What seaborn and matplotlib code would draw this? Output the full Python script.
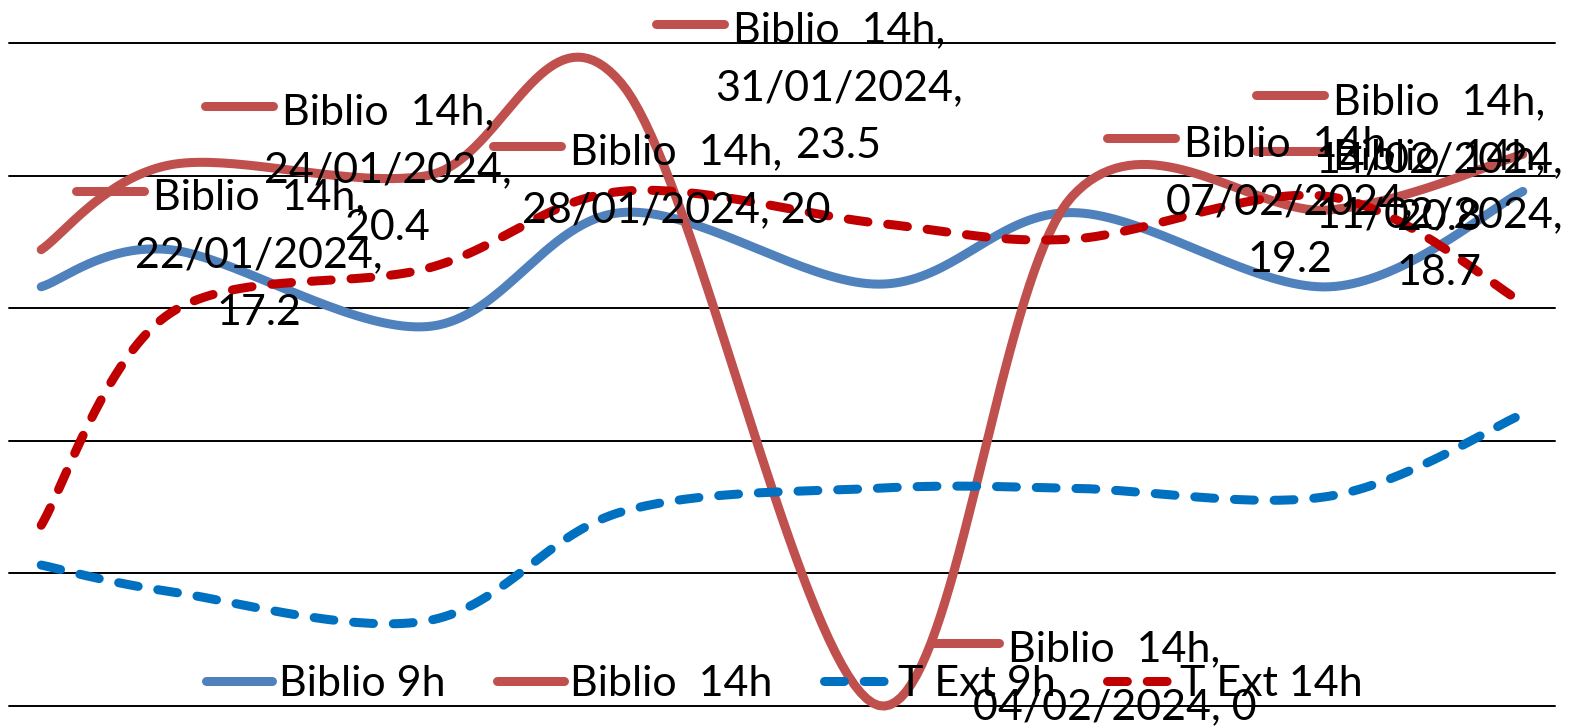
import numpy as np
import pandas as pd
import matplotlib
matplotlib.use("Agg")
import matplotlib.pyplot as plt
from matplotlib.lines import Line2D
from matplotlib.transforms import IdentityTransform
import seaborn as sns

dates = ["22/01/2024", "24/01/2024", "28/01/2024", "31/01/2024",
         "04/02/2024", "07/02/2024", "11/02/2024", "14/02/2024"]
biblio_9h = [15.8, 17.2, 14.3, 18.6, 15.9, 18.6, 15.8, 19.4]
biblio_14h = [17.2, 20.4, 20, 23.5, 0, 19.2, 18.7, 20.8]
t_ext_9h = [5.3, 4.3, 3.2, 7.3, 8.2, 8.2, 7.9, 11.0]
t_ext_14h = [6.8, 14.8, 16.5, 19.4, 18.2, 17.6, 19.2, 15.2]

names = ["Biblio 9h", "Biblio  14h", "T Ext 9h", "T Ext 14h"]
colors = ["#4F81BD", "#C0504D", "#0070C0", "#C00000"]
dashed = [False, False, True, True]

W, H = 1581, 726
FS = 31
LW = 6.5
DASH = (0, (2.2, 2.2))


def smooth(x, y, n=40):
    # excel style smoothed line: bezier segments through every point
    p = np.column_stack([x, y]).astype(float)
    pe = np.vstack([p[0], p, p[-1]])
    t = np.linspace(0, 1, n)[1:, None]
    out = [p[:1]]
    for i in range(len(p) - 1):
        p0, p1, p2, p3 = pe[i], pe[i + 1], pe[i + 2], pe[i + 3]
        c1 = p1 + (p2 - p0) / 6
        c2 = p2 - (p3 - p1) / 6
        out.append((1 - t) ** 3 * p1 + 3 * (1 - t) ** 2 * t * c1
                   + 3 * (1 - t) * t ** 2 * c2 + t ** 3 * p2)
    out = np.vstack(out)
    return out[:, 0], out[:, 1]


sns.set_theme(style="white")
plt.rcParams["font.family"] = ["Lato", "DejaVu Sans"]
plt.rcParams["text.color"] = "black"

fig = plt.figure(figsize=(W / 100, H / 100), dpi=100)
ax = fig.add_axes([9 / W, (H - 705.5) / H, (1555 - 9) / W, (705.5 - 43) / H])

d = pd.to_datetime(dates, format="%d/%m/%Y")
x = np.asarray((d - d[0]).days, dtype=float)

for vals, c, dsh in zip([biblio_9h, biblio_14h, t_ext_9h, t_ext_14h], colors, dashed):
    sx, sy = smooth(x, vals)
    sns.lineplot(x=sx, y=sy, sort=False, estimator=None, color=c, linewidth=LW,
                 ax=ax, clip_on=False)
    line = ax.lines[-1]
    line.set_solid_capstyle("round")
    line.set_dash_capstyle("round")
    if dsh:
        line.set_linestyle(DASH)

ax.set_xlim(-0.5, 23.5)
ax.set_ylim(0, 25)
ax.set_yticks(range(0, 26, 5))
ax.yaxis.grid(True, color="black", linewidth=1.4)
ax.xaxis.grid(False)
ax.set_axisbelow(True)
for gl in ax.get_ygridlines():
    gl.set_clip_on(False)
ax.tick_params(left=False, bottom=False, labelleft=False, labelbottom=False)
for s in ax.spines.values():
    s.set_visible(False)
ax.set_xlabel("")
ax.set_ylabel("")

handles = [Line2D([], [], color=c, linewidth=LW, linestyle=DASH if dsh else "-",
                  solid_capstyle="round", dash_capstyle="round")
           for c, dsh in zip(colors, dashed)]
ax.legend(handles, names, loc="center", bbox_to_anchor=(0.5015, 0.033), ncol=4,
          frameon=False, fontsize=FS, handlelength=1.55, handletextpad=0.15,
          columnspacing=1.2, borderpad=0, borderaxespad=0, labelcolor="black")

# data labels of the "Biblio  14h" series, with their legend key
fig.canvas.draw()
rend = fig.canvas.get_renderer()
px_fs = FS * 100 / 72
cap = 0.7165 * px_fs
pitch = 58


def text_width(s):
    t = fig.text(0, 0, s, fontsize=FS)
    w = t.get_window_extent(rend).width
    t.remove()
    return w


for i, val in enumerate(biblio_14h):
    vs = f"{val:g}"
    if len(vs) <= 2:
        lines = [f"{names[1]},", f"{dates[i]}, {vs}"]
    else:
        lines = [f"{names[1]},", f"{dates[i]},", vs]
    px, py = ax.transData.transform((x[i], val))
    widths = [text_width(s) for s in lines]
    bw = max(widths)
    left = min(px + 94, W - 18 - bw)
    cx = left + bw / 2
    n = len(lines)
    top = py - 2 + (n - 1) / 2 * pitch
    bottom = top - (n - 1) * pitch
    if bottom < 22:
        top += 22 - bottom
    if top > H - 24:
        top = H - 24
    for k, s in enumerate(lines):
        yc = top - k * pitch
        fig.text(cx, yc - cap / 2, s, fontsize=FS, ha="center", va="baseline",
                 color="black", transform=IdentityTransform())
    start = cx - widths[0] / 2
    kx1 = start - 9
    fig.add_artist(Line2D([kx1 - 68, kx1], [top + 3, top + 3], color=colors[1],
                          linewidth=LW, solid_capstyle="round",
                          transform=IdentityTransform()))

fig.savefig("out.png", dpi=100)
